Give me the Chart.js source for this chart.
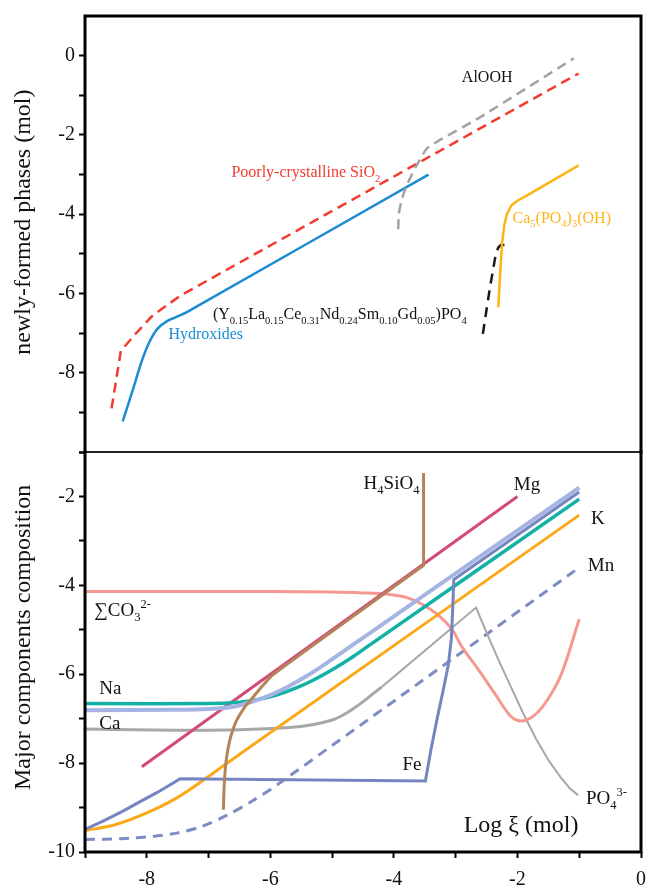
<!DOCTYPE html>
<html>
<head>
<meta charset="utf-8">
<script src="https://cdn.jsdelivr.net/npm/chart.js@4.4.1/dist/chart.umd.min.js"></script>
<style>
  html, body { margin: 0; padding: 0; background: #fff; }
  #wrap { position: relative; width: 648px; height: 887px; }
  #wrap canvas { position: absolute; left: 0; top: 0; }
</style>
</head>
<body>
<div id="wrap">
  <canvas id="phasesChart" width="648" height="887"></canvas>
  <canvas id="compChart" width="648" height="887"></canvas>
</div>
<script>
// Log ξ (mol) range shared by both panels
const xRange = [-9, 0];
const phaseRange = [-10, 1];
const compRange = [-10, -1];

// upper panel: newly-formed phases, log mol  ([log ξ, value])
const silica = [[-8.57,-8.9],[-8.42,-7.45],[-8.2,-7.05],[-7.9,-6.55],[-7.45,-6.05],[-1.01,-0.45]];
const hydroxides = [[-8.39,-9.23],[-8.22,-8.4],[-8.08,-7.7],[-7.95,-7.2],[-7.82,-6.88],[-7.65,-6.68],[-7.5,-6.58],[-7.33,-6.45],[-3.44,-3.0]];
const alooh = [[-3.93,-4.38],[-3.92,-4.0],[-3.88,-3.68],[-3.8,-3.3],[-3.65,-2.82],[-3.47,-2.35],[-3.3,-2.17],[-2.6,-1.55],[-1.09,-0.07]];
const monazite = [[-2.56,-7.02],[-2.45,-5.9],[-2.35,-5.0],[-2.31,-4.84],[-2.27,-4.78],[-2.2,-4.78]];
const apatite = [[-2.31,-6.35],[-2.28,-5.5],[-2.25,-4.75],[-2.21,-4.25],[-2.17,-4.0],[-2.1,-3.78],[-2.0,-3.66],[-1.87,-3.55],[-1.01,-2.77]];

// lower panel: major components of the solution
const mg = [[-8.08,-8.08],[-2.0,-2.0]];
const h4sio4 = [[-6.76,-9.05],[-6.75,-8.6],[-6.73,-8.15],[-6.7,-7.8],[-6.64,-7.4],[-6.55,-7.05],[-6.42,-6.75],[-6.27,-6.5],[-6.1,-6.22],[-5.95,-6.0],[-3.58,-3.61],[-3.52,-3.55],[-3.52,-3.49],[-3.52,-1.47]];
const co3 = [[-9,-4.14],[-6,-4.14],[-5,-4.15],[-4.5,-4.17],[-4.1,-4.2],[-3.8,-4.27],[-3.55,-4.42],[-3.3,-4.65],[-3.06,-4.99],[-2.89,-5.4],[-2.62,-5.92],[-2.36,-6.45],[-2.12,-6.93],[-1.96,-7.05],[-1.78,-6.98],[-1.56,-6.67],[-1.29,-6.0],[-1.0,-4.76]];
const na = [[-9,-6.66],[-7,-6.66],[-6.5,-6.63],[-6.2,-6.57],[-5.9,-6.47],[-5.6,-6.32],[-5.3,-6.13],[-5.0,-5.9],[-4.7,-5.64],[-4.4,-5.35],[-1,-2.06]];
const lavender = [[-9,-6.81],[-7.5,-6.8],[-7.0,-6.78],[-6.6,-6.73],[-6.3,-6.62],[-6.0,-6.47],[-5.7,-6.27],[-5.4,-6.03],[-5.1,-5.76],[-4.8,-5.47],[-4.5,-5.18],[-1,-1.8]];
const fe = [[-9,-9.49],[-8.7,-9.3],[-8.37,-9.07],[-8.1,-8.86],[-7.83,-8.66],[-7.6,-8.47],[-7.46,-8.35],[-3.49,-8.4],[-3.4,-7.7],[-3.3,-7.0],[-3.2,-6.35],[-3.12,-5.8],[-3.07,-5.2],[-3.05,-4.6],[-3.03,-3.87],[-1,-1.9]];
const ca = [[-9,-7.23],[-7.5,-7.26],[-6.5,-7.25],[-5.7,-7.2],[-5.3,-7.13],[-5.0,-7.03],[-4.8,-6.9],[-4.6,-6.72],[-4.4,-6.51],[-4.2,-6.29]];
const po4 = [[-4.2,-6.29],[-2.67,-4.5],[-2.49,-5.1],[-2.3,-5.7],[-2.1,-6.3],[-1.9,-6.9],[-1.7,-7.45],[-1.5,-7.93],[-1.3,-8.32],[-1.15,-8.57],[-1.02,-8.72]];
const k = [[-9,-9.52],[-8.5,-9.38],[-8,-9.12],[-7.5,-8.77],[-7.0,-8.3],[-6.6,-7.9],[-1,-2.42]];
const mn = [[-9,-9.72],[-8.4,-9.7],[-7.9,-9.65],[-7.5,-9.57],[-7.1,-9.42],[-6.7,-9.17],[-6.3,-8.86],[-5.85,-8.45],[-1,-3.6]];

// in-plot labels: [text, log ξ, value, colour]
const topNotes = [
  ['AlOOH', -2.9, -0.53, '#111'],
  ['Poorly-crystalline SiO_{2}', -6.63, -2.94, '#f33b2e'],
  ['Ca_{5}(PO_{4})_{3}(OH)', -2.08, -4.08, '#fdb515'],
  ['(Y_{0.15}La_{0.15}Ce_{0.31}Nd_{0.24}Sm_{0.10}Gd_{0.05})PO_{4}', -6.93, -6.52, '#111'],
  ['Hydroxides', -7.65, -7.02, '#1b8bd3']
];
const bottomNotes = [
  ['H_{4}SiO_{4}', -4.49, -1.69],
  ['Mg', -2.06, -1.72],
  ['K', -0.81, -2.47],
  ['Mn', -0.86, -3.54],
  ['\u2211CO_{3}^{2-}', -8.85, -4.54],
  ['Na', -8.77, -6.31],
  ['Ca', -8.77, -7.09],
  ['Fe', -3.86, -8.02],
  ['PO_{4}^{3-}', -0.89, -8.77]
];

const serif = "'Liberation Serif', 'Times New Roman', 'DejaVu Serif', serif";
Chart.defaults.font.family = serif;
Chart.defaults.color = '#111';

function parseRich(str) {
  const parts = [];
  const re = /([_^])\{([^}]*)\}|([^_^]+)/g;
  let m;
  while ((m = re.exec(str))) {
    if (m[3]) parts.push({ t: m[3], k: 'n' });
    else parts.push({ t: m[2], k: m[1] === '_' ? 'sub' : 'sup' });
  }
  return parts;
}

function drawRich(ctx, str, x, y, size, color) {
  ctx.save();
  ctx.fillStyle = color;
  ctx.textBaseline = 'alphabetic';
  ctx.textAlign = 'left';
  const base = y + size * 0.33;
  let cx = x;
  for (const p of parseRich(str)) {
    const s = p.k === 'n' ? size : size * 0.66;
    ctx.font = s + 'px ' + serif;
    const dy = p.k === 'sub' ? size * 0.28 : p.k === 'sup' ? -size * 0.42 : 0;
    ctx.fillText(p.t, cx, base + dy);
    cx += ctx.measureText(p.t).width;
  }
  ctx.restore();
}

const notesPlugin = {
  id: 'notes',
  afterDatasetsDraw(chart, args, opts) {
    const { ctx, scales } = chart;
    for (const n of opts.items) {
      drawRich(ctx, n[0], scales.x.getPixelForValue(n[1]), scales.y.getPixelForValue(n[2]), opts.size, n[3] || '#111');
    }
    if (opts.xTitle) {
      drawRich(ctx, opts.xTitle[0], scales.x.getPixelForValue(opts.xTitle[1]), scales.y.getPixelForValue(opts.xTitle[2]), 24, '#111');
    }
    // rotated y title, centred on a value of the y scale
    if (opts.yTitle) {
      ctx.save();
      ctx.translate(24, scales.y.getPixelForValue(opts.yTitle[1]));
      ctx.rotate(-Math.PI / 2);
      ctx.font = '24px ' + serif;
      ctx.fillStyle = '#111';
      ctx.textAlign = 'center';
      ctx.textBaseline = 'middle';
      ctx.fillText(opts.yTitle[0], 0, 0);
      ctx.restore();
    }
  }
};

const framePlugin = {
  id: 'frame',
  afterDatasetsDraw(chart, args, opts) {
    const { ctx, chartArea: a } = chart;
    ctx.save();
    ctx.strokeStyle = '#000';
    ctx.lineWidth = 3;
    ctx.lineCap = 'square';
    ctx.beginPath();
    const seg = {
      left: [a.left, a.top, a.left, a.bottom],
      right: [a.right, a.top, a.right, a.bottom],
      top: [a.left, a.top, a.right, a.top],
      bottom: [a.left, a.bottom, a.right, a.bottom]
    };
    for (const s of opts.sides) {
      const p = seg[s];
      ctx.moveTo(p[0], p[1]);
      ctx.lineTo(p[2], p[3]);
    }
    ctx.stroke();
    if (opts.divider) {
      ctx.lineWidth = 2;
      ctx.strokeStyle = '#222';
      ctx.lineCap = 'butt';
      ctx.beginPath();
      ctx.moveTo(a.left, a.bottom);
      ctx.lineTo(a.right, a.bottom);
      ctx.stroke();
    }
    ctx.restore();
  }
};

function pts(arr) {
  return arr.map(p => ({ x: p[0], y: p[1] }));
}

function line(label, arr, color, width, extra) {
  return Object.assign({
    label: label,
    data: pts(arr),
    showLine: true,
    borderColor: color,
    backgroundColor: color,
    borderWidth: width,
    pointRadius: 0,
    pointHoverRadius: 0,
    tension: 0,
    fill: false
  }, extra || {});
}

const evenLabel = v => (Math.round(v) % 2 === 0 ? String(v) : '');

function yAxis(range, hideTop) {
  return {
    min: range[0],
    max: range[1],
    afterFit: s => { s.width = 85; },
    border: { display: false },
    grid: {
      drawOnChartArea: false,
      drawTicks: true,
      tickLength: 6,
      tickWidth: 2,
      tickColor: c => (hideTop && c.tick && c.tick.value === range[1]) ? 'rgba(0,0,0,0)' : '#000'
    },
    ticks: {
      stepSize: 1,
      padding: 4,
      color: '#111',
      font: { size: 20 },
      callback: v => (hideTop && v === -10) ? '' : evenLabel(v)
    }
  };
}

new Chart(document.getElementById('phasesChart'), {
  type: 'scatter',
  data: {
    datasets: [
      line('Ca5(PO4)3(OH)', apatite, '#fdb515', 2.5),
      line('Monazite', monazite, '#1a1a1a', 2.5, { borderDash: [10, 7] }),
      line('AlOOH', alooh, '#a3a3a3', 2.5, { borderDash: [10, 6], tension: 0.2 }),
      line('Poorly-crystalline SiO2', silica, '#f33b2e', 2.5, { borderDash: [10, 6] }),
      line('Hydroxides', hydroxides, '#1b8bd3', 2.5, { tension: 0.25 })
    ]
  },
  options: {
    responsive: false,
    animation: false,
    events: [],
    layout: { padding: { top: 14, bottom: 435, left: 0, right: 7 } },
    scales: {
      x: { min: xRange[0], max: xRange[1], display: false },
      y: yAxis(phaseRange, true)
    },
    plugins: {
      legend: { display: false },
      tooltip: { enabled: false },
      notes: { items: topNotes, size: 16, yTitle: ['newly-formed phases (mol)', -4.2] },
      frame: { sides: ['left', 'top', 'right'], divider: true }
    }
  },
  plugins: [notesPlugin, framePlugin]
});

new Chart(document.getElementById('compChart'), {
  type: 'scatter',
  data: {
    datasets: [
      line('H4SiO4', h4sio4, '#b5835a', 3, { tension: 0.3 }),
      line('unlabelled', lavender, '#a5b4e2', 4, { tension: 0.3 }),
      line('Fe', fe, '#7585c0', 3),
      line('Na', na, '#13b0a5', 3.5, { tension: 0.3 }),
      line('K', k, '#fba91a', 3, { tension: 0.3 }),
      line('Mg', mg, '#d4497b', 3),
      line('CO3', co3, '#f49890', 3, { tension: 0.3 }),
      line('Ca', ca, '#a6a8a8', 3, { tension: 0.3 }),
      line('PO4', po4, '#a6a8a8', 2),
      line('Mn', mn, '#7d8cc2', 3, { borderDash: [10, 7], tension: 0.3 })
    ]
  },
  options: {
    responsive: false,
    animation: false,
    events: [],
    layout: { padding: { top: 452, bottom: 0, left: 0, right: 7 } },
    scales: {
      x: {
        min: xRange[0],
        max: xRange[1],
        afterFit: s => { s.height = 35; s.paddingLeft = 0; s.paddingRight = 0; },
        border: { display: false },
        grid: { drawOnChartArea: false, drawTicks: true, tickLength: 6, tickWidth: 2, tickColor: '#000' },
        ticks: { stepSize: 1, padding: 10, color: '#111', font: { size: 20 }, maxRotation: 0, callback: evenLabel }
      },
      y: yAxis(compRange, false)
    },
    plugins: {
      legend: { display: false },
      tooltip: { enabled: false },
      notes: {
        items: bottomNotes,
        size: 19,
        xTitle: ['Log \u03be (mol)', -2.87, -9.37],
        yTitle: ['Major components composition', -5.17]
      },
      frame: { sides: ['left', 'right', 'bottom'] }
    }
  },
  plugins: [notesPlugin, framePlugin]
});
</script>
</body>
</html>
